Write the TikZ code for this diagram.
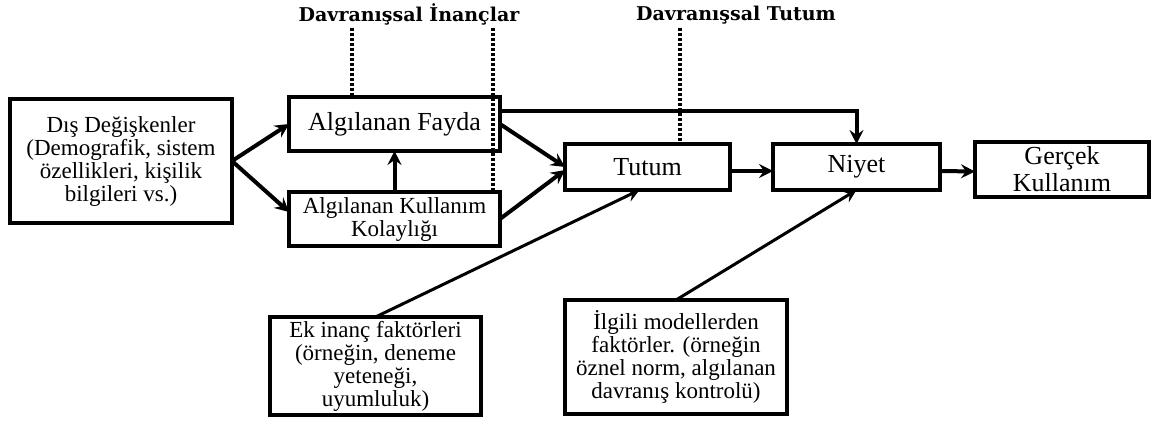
\documentclass[tikz,border=0pt]{standalone}
\usepackage{fontspec}
\setmainfont{Liberation Serif}
\newfontfamily\titlefont{DejaVu Serif}
\usetikzlibrary{arrows.meta,calc}

\tikzset{
  box/.style={draw, line width=3.5pt, rectangle, inner sep=0pt, outer sep=0pt,
              align=center, font=\fontsize{23}{23}\selectfont},
  bigtext/.style={font=\fontsize{26}{27}\selectfont},
  flow/.style={line width=4pt, -{Stealth[length=14pt,width=14pt,inset=5pt]}},
  thinflow/.style={line width=3pt, -{Stealth[length=13pt,width=13pt,inset=5pt]}},
  dotline/.style={line width=4pt, dash pattern=on 3pt off 2pt},
  heading/.style={font=\titlefont\bfseries\fontsize{19}{21}\selectfont, inner sep=0pt}
}

\begin{document}
\begin{tikzpicture}[x=1pt,y=-1pt]
  \useasboundingbox (0,0) rectangle (1156,424);

  % headings
  \node[heading] (hbel) at (409,14) {Davranışsal İnançlar};
  \node[heading] (hatt) at (736,15) {Davranışsal Tutum};

  % boxes
  \node[box, minimum width=222pt, minimum height=124pt] (dis) at (121,161)
    {Dış Değişkenler\\(Demografik, sistem\\özellikleri, kişilik\\bilgileri vs.)};
  \node[box, bigtext, minimum width=211pt, minimum height=54pt] (fayda) at (394.5,124)
    {Algılanan Fayda};
  \node[box, minimum width=211pt, minimum height=54pt] (kolay) at (394.5,219)
    {Algılanan Kullanım\\Kolaylığı};
  \node[box, bigtext, minimum width=165pt, minimum height=46pt] (tutum) at (647.5,167)
    {Tutum};
  \node[box, bigtext, minimum width=167pt, minimum height=46pt] (niyet) at (856.5,167)
    {Niyet};
  \node[box, bigtext, minimum width=174pt, minimum height=55pt] (gercek) at (1062,169.5)
    {Gerçek\\Kullanım};
  \node[box, minimum width=211pt, minimum height=98pt] (ek) at (375.5,366)
    {Ek inanç faktörleri\\(örneğin, deneme\\yeteneği,\\uyumluluk)};
  \node[box, minimum width=222pt, minimum height=114pt] (ilgili) at (676,357)
    {İlgili modellerden\\faktörler. (örneğin\\öznel norm, algılanan\\davranış kontrolü)};

  % dotted guide lines under the headings
  \coordinate (g1) at (352,28);
  \coordinate (g2) at (493,28);
  \coordinate (g3) at (680,28);
  \draw[dotline] (g1) -- (g1 |- fayda.north);
  \draw[dotline] (g2) -- (g2 |- kolay.north);
  \draw[dotline] (g3) -- (g3 |- tutum.north);

  % connectors
  \draw[flow] (dis.east) -- (fayda.west);
  \draw[flow] (dis.east) -- ([yshift=7pt]kolay.west);
  \draw[flow] (kolay.north) -- (fayda.south);
  \draw[flow] (fayda.east) -- (tutum.west);
  \draw[flow] (kolay.east) -- ([yshift=-3pt]tutum.west);
  \coordinate (fu) at ($(fayda.north east)!0.26!(fayda.south east)$);
  \draw[flow] (fu) -| (niyet.north);
  \draw[flow] ([yshift=-4pt]tutum.east) -- ([yshift=-4pt]niyet.west);
  \draw[flow] ([yshift=-4pt]niyet.east) -- ([yshift=-2pt]gercek.west);
  \draw[thinflow] (ek.north) -- ([xshift=-8pt]tutum.south);
  \draw[thinflow] (ilgili.north) -- (niyet.south);
\end{tikzpicture}
\end{document}
